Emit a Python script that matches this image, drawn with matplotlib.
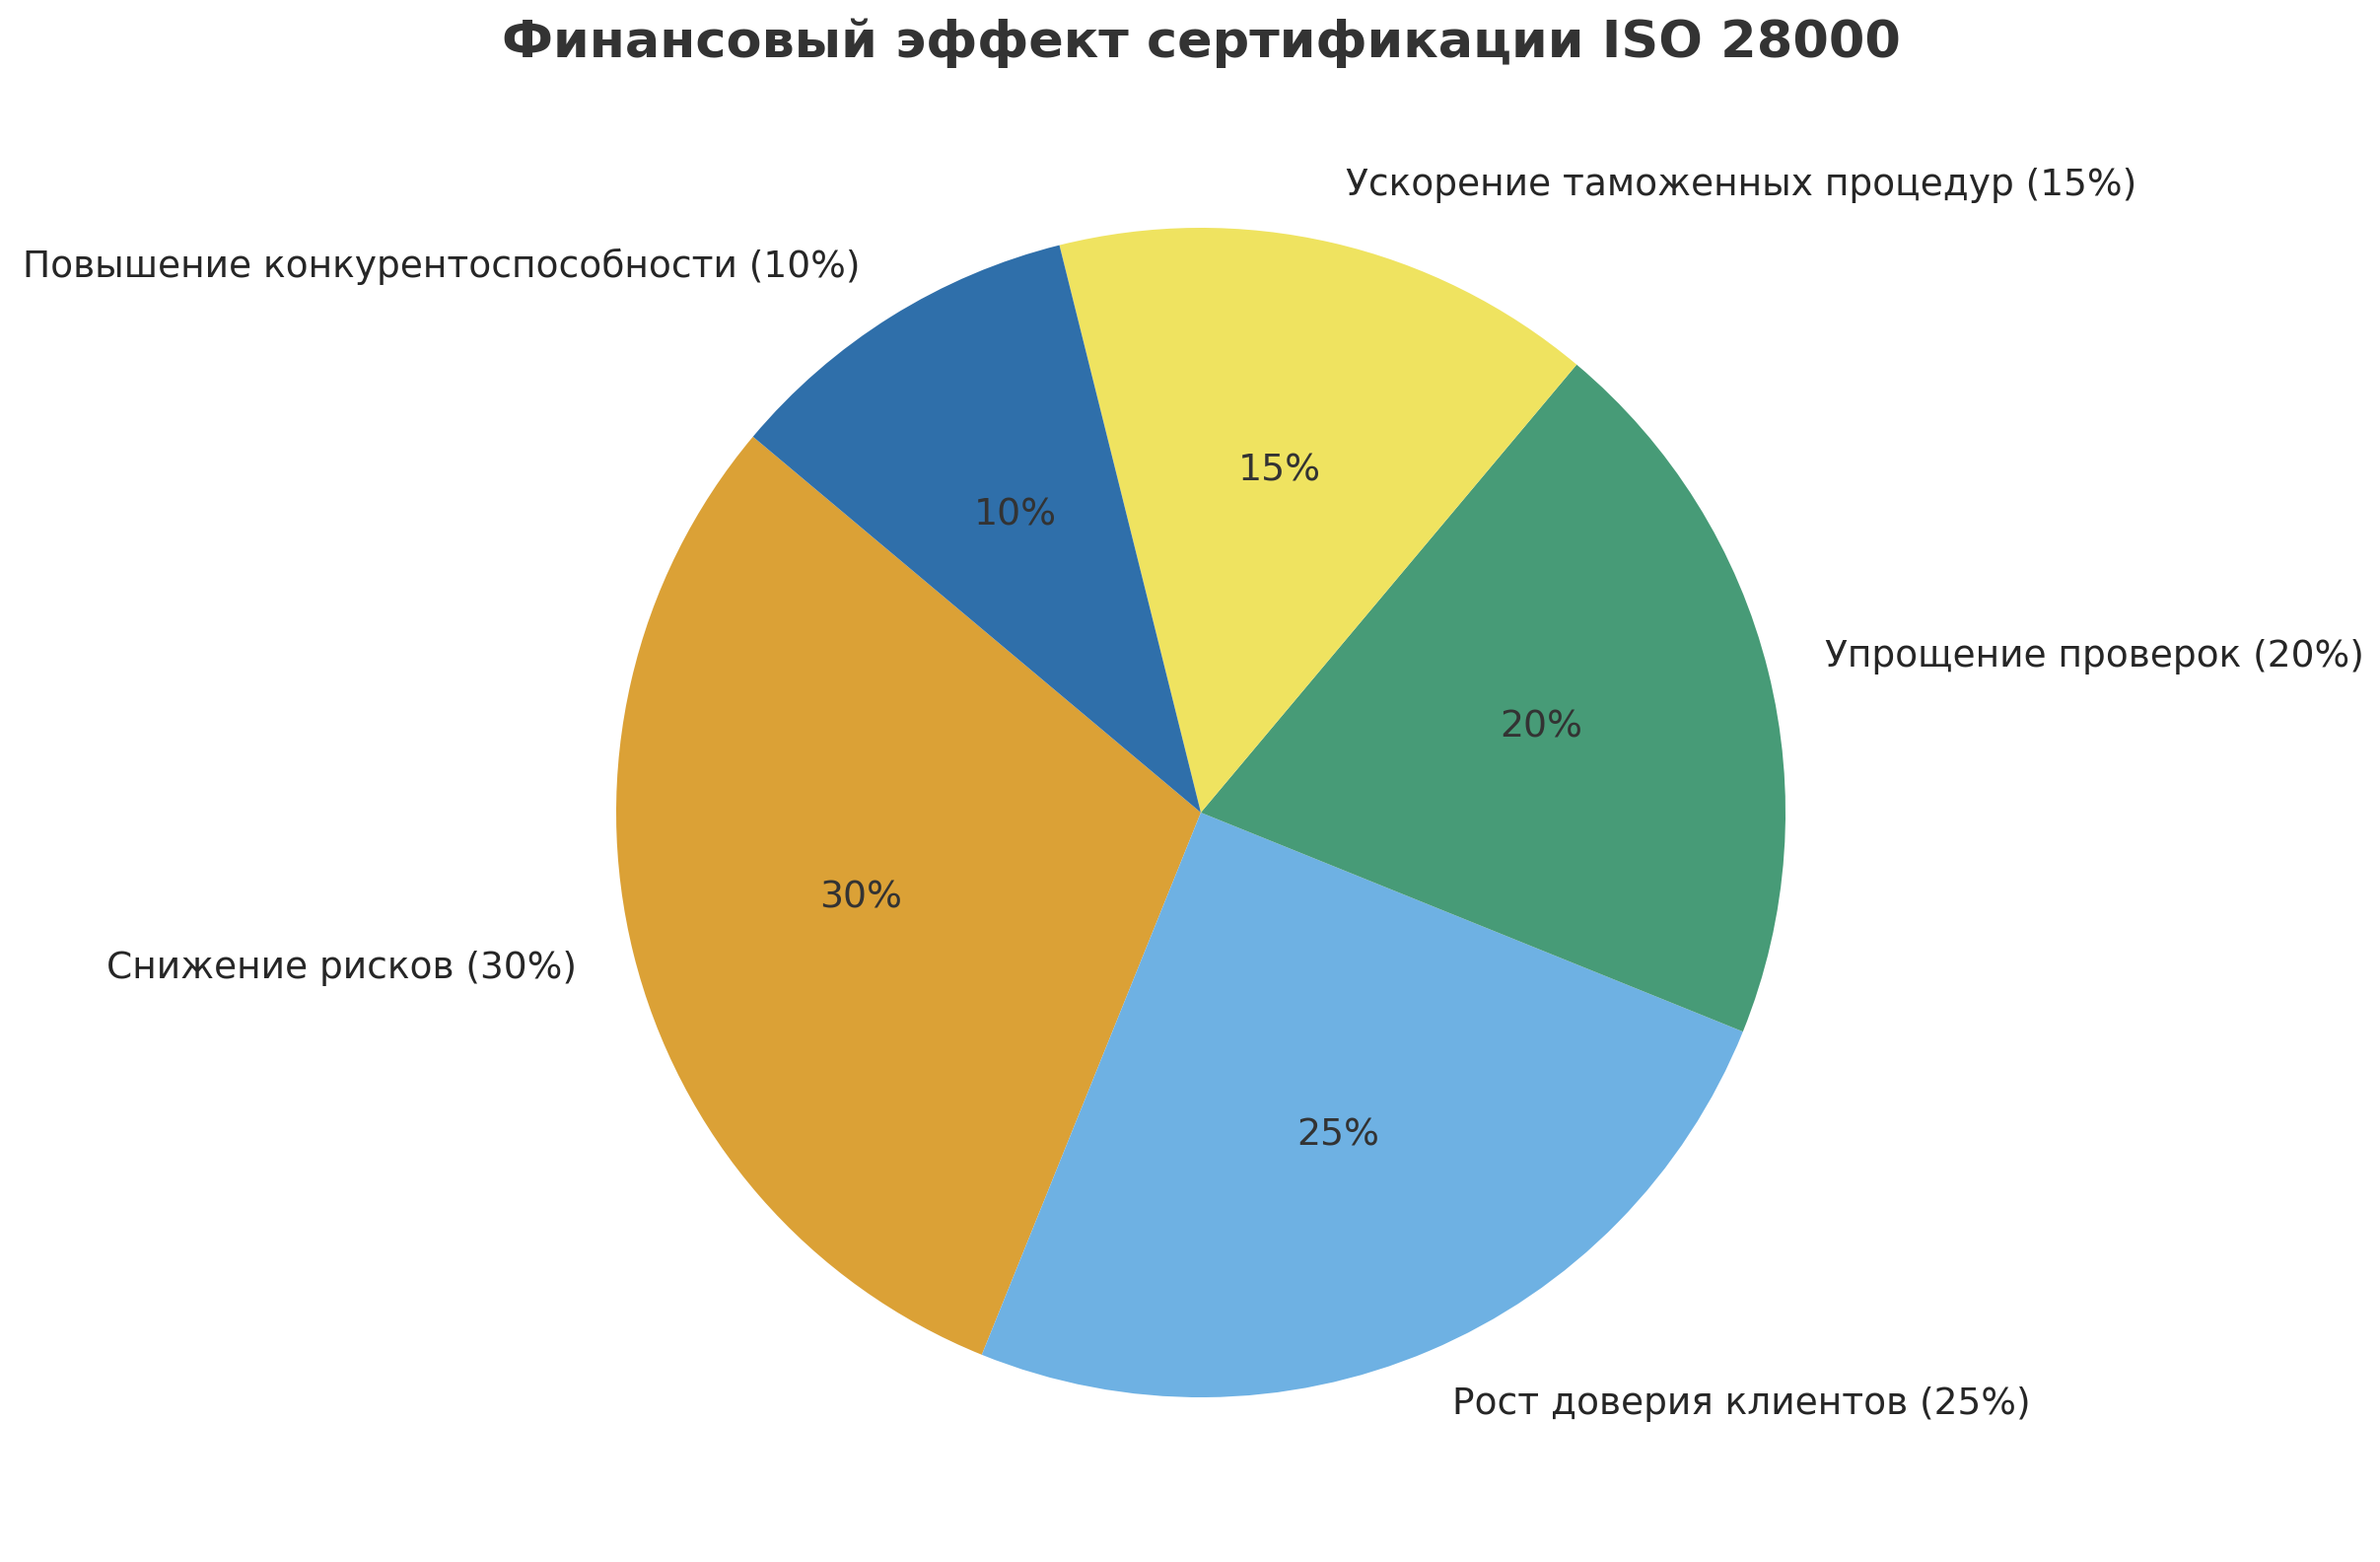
import matplotlib
matplotlib.use('Agg')
from matplotlib import pyplot as plt

plt.rcParams['font.family'] = ['DejaVu Sans']

categories = ['Снижение рисков', 'Рост доверия клиентов', 'Упрощение проверок',
              'Ускорение таможенных процедур', 'Повышение конкурентоспособности']
shares = [30, 25, 20, 15, 10]
colors = ['#DBA136', '#6EB1E3', '#479B77', '#EFE360', '#2F6FAA']
title = 'Финансовый эффект сертификации ISO 28000'

W, H, DPI = 2414, 1584, 200
fig = plt.figure(figsize=(W / DPI, H / DPI), dpi=DPI)

# pie centre and radius in pixels
cx, cy, r = 1218, 824, 593
half = 1.25 * r
ax = fig.add_axes([(cx - half) / W, (H - cy - half) / H, 2 * half / W, 2 * half / H])

labels = ['{} ({}%)'.format(c, v) for c, v in zip(categories, shares)]
wedges, texts, autotexts = ax.pie(shares, labels=labels, colors=colors,
                                  startangle=140, autopct='%1.0f%%',
                                  pctdistance=0.6, labeldistance=1.1,
                                  textprops={'fontsize': 13.5, 'color': '#262626'})
for t in autotexts:
    t.set_color('#333333')
    t.set_fontsize(13.6)
ax.set_aspect('equal')

# title is centred over the pie, not the figure
fig.text(cx / W, 1 - 44 / H, title, ha='center', va='center',
         fontsize=18.9, fontweight='bold', color='#333333')

fig.savefig('out.png', dpi=DPI)
